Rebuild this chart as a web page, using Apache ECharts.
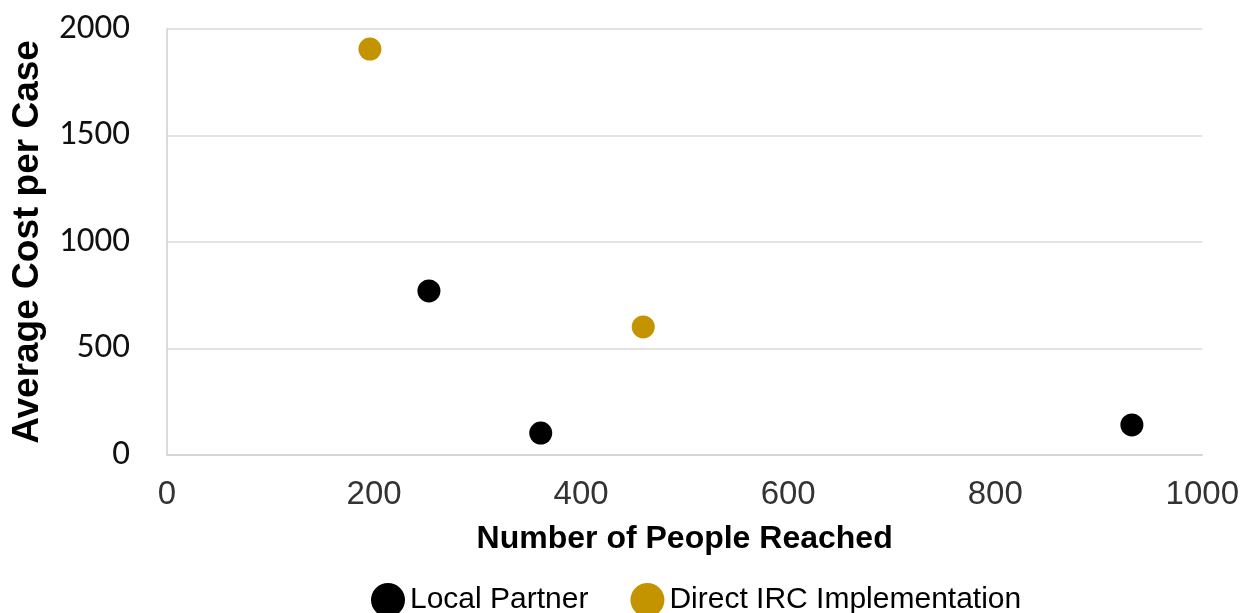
<!DOCTYPE html>
<html>
<head>
<meta charset="utf-8">
<script src="https://cdn.jsdelivr.net/npm/echarts@6/dist/echarts.min.js"></script>
<style>
  html, body { margin: 0; padding: 0; background: #fff; }
  #chart { width: 1242px; height: 613px; }
</style>
</head>
<body>
<div id="chart"></div>
<script>
  // people reached / average cost per case
  const localPartner = [[253, 770], [361, 103], [932, 141]];
  const directIRC = [[196, 1906], [460, 601]];
  const xTicks = [0, 200, 400, 600, 800, 1000];
  const yTicks = [0, 500, 1000, 1500, 2000];

  let myChart = echarts.init(document.getElementById('chart'));
  let option = {
    animation: false,
    grid: {
      left: 167,
      right: 39,
      top: 29,
      bottom: 158
    },
    legend: {
      top: 578,
      left: 366,
      icon: 'circle',
      itemWidth: 34,
      itemHeight: 34,
      itemGap: 42,
      textStyle: {
        fontFamily: 'Liberation Sans',
        fontSize: 30,
        color: '#000'
      },
      data: ['Local Partner', 'Direct IRC Implementation']
    },
    xAxis: {
      type: 'value',
      min: xTicks[0],
      max: xTicks[xTicks.length - 1],
      interval: 200,
      name: 'Number of People Reached',
      nameLocation: 'middle',
      nameGap: 68,
      nameTextStyle: {
        fontFamily: 'Liberation Sans',
        fontWeight: 'bold',
        fontSize: 32,
        color: '#000'
      },
      axisLine: { show: true, lineStyle: { color: '#cfcfcf', width: 1.5 } },
      axisTick: { show: false },
      splitLine: { show: false },
      axisLabel: {
        margin: 23,
        fontFamily: 'Liberation Sans',
        fontSize: 33,
        color: '#333',
        formatter: v => String(v)
      }
    },
    yAxis: {
      type: 'value',
      min: yTicks[0],
      max: yTicks[yTicks.length - 1],
      interval: 500,
      name: 'Average Cost per Case',
      nameLocation: 'middle',
      nameGap: 121,
      nameTextStyle: {
        fontFamily: 'Liberation Sans',
        fontWeight: 'bold',
        fontSize: 37,
        color: '#000'
      },
      axisLine: { show: true, lineStyle: { color: '#cfcfcf', width: 1.5 } },
      axisTick: { show: false },
      splitLine: { show: true, lineStyle: { color: '#dadada', width: 1.5 } },
      axisLabel: {
        margin: 37,
        fontFamily: 'Carlito, Liberation Sans',
        fontSize: 35,
        color: '#111',
        formatter: v => String(v)
      }
    },
    series: [
      {
        name: 'Local Partner',
        type: 'scatter',
        symbolSize: 23,
        itemStyle: { color: '#000', opacity: 1 },
        data: localPartner
      },
      {
        name: 'Direct IRC Implementation',
        type: 'scatter',
        symbolSize: 23,
        itemStyle: { color: '#C49300', opacity: 1 },
        data: directIRC
      }
    ]
  };
  myChart.setOption(option);
</script>
</body>
</html>
